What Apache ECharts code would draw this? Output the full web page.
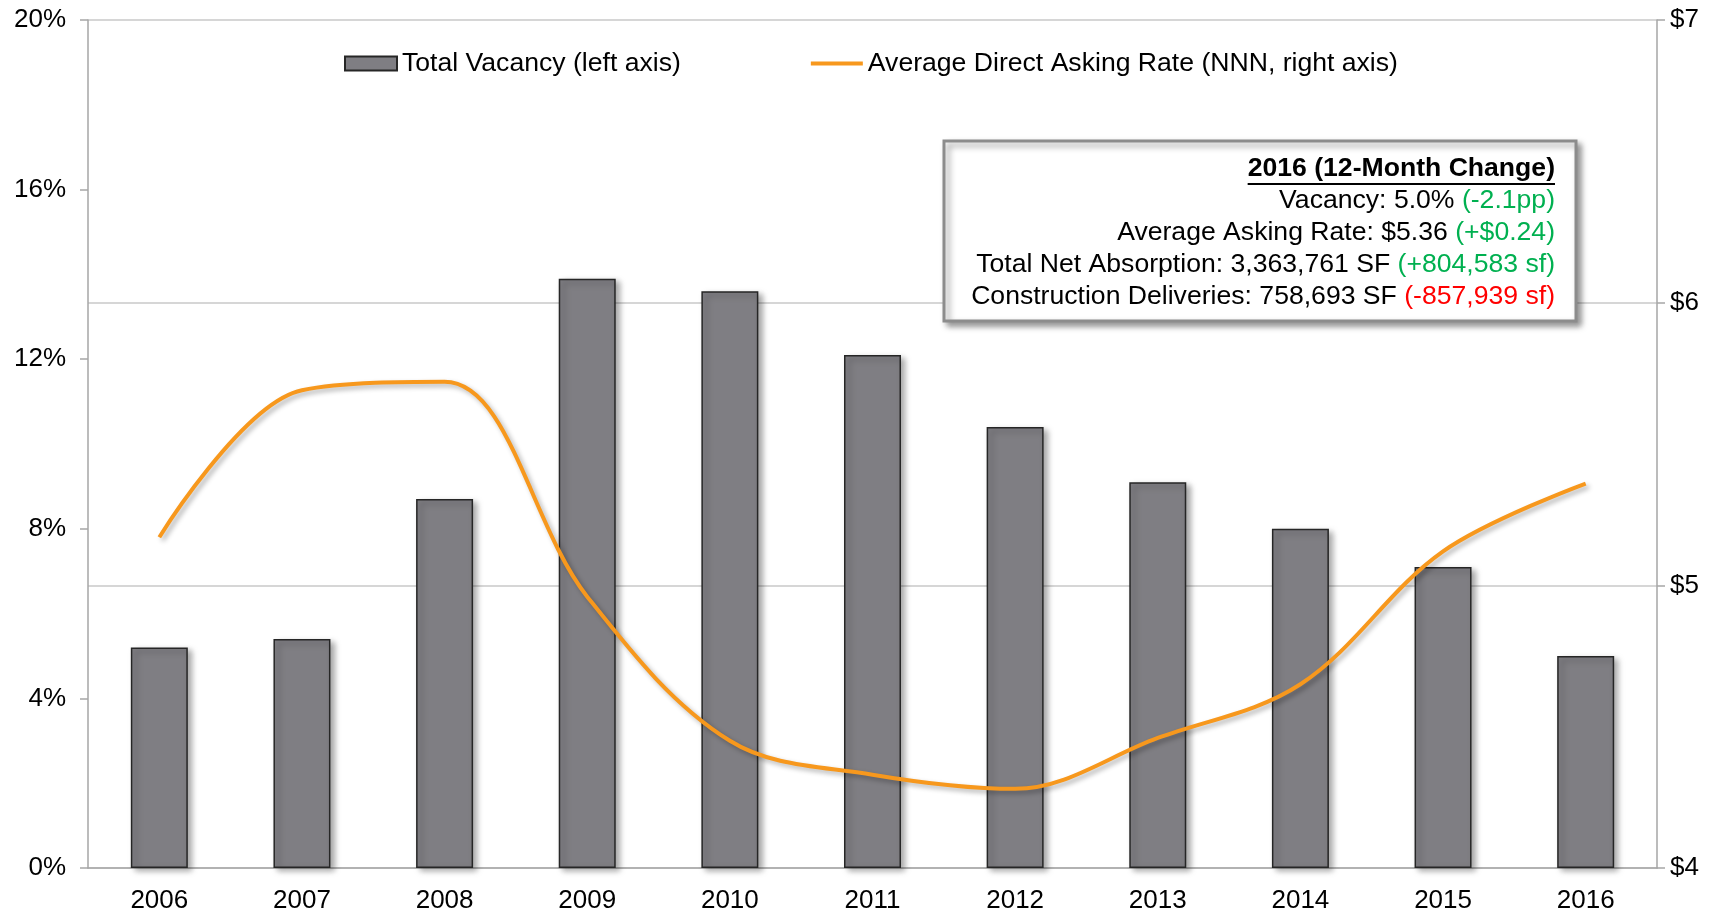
<!DOCTYPE html>
<html>
<head>
<meta charset="utf-8">
<title>Vacancy and Asking Rate</title>
<script src="https://cdn.jsdelivr.net/npm/echarts@6/dist/echarts.min.js"></script>
<style>
  html, body { margin: 0; padding: 0; background: #fff; }
  #chart { width: 1723px; height: 914px; }
</style>
</head>
<body>
<div id="chart"></div>
<script>
// data
const years = ['2006', '2007', '2008', '2009', '2010', '2011', '2012', '2013', '2014', '2015', '2016'];
const vacancy = [5.2, 5.4, 8.7, 13.9, 13.6, 12.1, 10.4, 9.1, 8.0, 7.1, 5.0];
const askingRate = [5.17, 5.69, 5.72, 4.96, 4.45, 4.33, 4.28, 4.46, 4.65, 5.12, 5.36];
const vacancyTicks = [0, 4, 8, 12, 16, 20];
const rateTicks = [4, 5, 6, 7];
const seriesNames = ['Total Vacancy (left axis)', 'Average Direct Asking Rate (NNN, right axis)'];
const boxTitle = '2016 (12-Month Change)';
const boxLines = [
    ['Vacancy: 5.0% ', '(-2.1pp)', 'g'],
    ['Average Asking Rate: $5.36 ', '(+$0.24)', 'g'],
    ['Total Net Absorption: 3,363,761 SF ', '(+804,583 sf)', 'g'],
    ['Construction Deliveries: 758,693 SF ', '(-857,939 sf)', 'r']
];

const FONT = '"Liberation Sans", Arial, sans-serif';
const FS = 26;
const FS_BOX = 26.6;

// 标题下划线宽度
const ctx = document.createElement('canvas').getContext('2d');
ctx.font = 'bold ' + FS_BOX + 'px ' + FONT;
const titleWidth = ctx.measureText(boxTitle).width;

const boxRight = 1555;
const graphics = [
    {
        type: 'rect',
        shape: { x: 944, y: 141, width: 632, height: 180 },
        style: {
            fill: '#fff', stroke: '#8C8C8C', lineWidth: 3,
            shadowBlur: 6, shadowOffsetX: 4, shadowOffsetY: 4, shadowColor: 'rgba(0,0,0,0.4)'
        },
        z: 10
    },
    {
        type: 'text', x: boxRight, y: 169, z: 11,
        style: {
            text: boxTitle, align: 'right', verticalAlign: 'middle',
            fontSize: FS_BOX, fontWeight: 'bold', fontFamily: FONT, fill: '#000'
        }
    },
    {
        type: 'line', z: 11,
        shape: { x1: boxRight - titleWidth, y1: 184, x2: boxRight, y2: 184 },
        style: { stroke: '#000', lineWidth: 2 }
    }
];
boxLines.forEach(function (l, i) {
    graphics.push({
        type: 'text', x: boxRight, y: 201 + i * 32, z: 11,
        style: {
            text: '{k|' + l[0] + '}{' + l[2] + '|' + l[1] + '}',
            align: 'right', verticalAlign: 'middle',
            fontSize: FS_BOX, fontFamily: FONT,
            rich: {
                k: { fill: '#000', fontSize: FS_BOX, fontFamily: FONT },
                g: { fill: '#00B050', fontSize: FS_BOX, fontFamily: FONT },
                r: { fill: '#FF0000', fontSize: FS_BOX, fontFamily: FONT }
            }
        }
    });
});

const chart = echarts.init(document.getElementById('chart'));
chart.setOption({
    animation: false,
    textStyle: { fontFamily: FONT },
    grid: { left: 88, right: 66, top: 20, bottom: 45, containLabel: false },
    legend: {
        left: 339,
        top: 45,
        itemWidth: 52,
        itemHeight: 14,
        itemGap: 128,
        textStyle: { fontSize: FS_BOX, color: '#000', fontFamily: FONT },
        data: [
            { name: seriesNames[0], icon: 'rect' },
            {
                name: seriesNames[1],
                itemStyle: { color: 'rgba(0,0,0,0)', borderWidth: 0 },
                lineStyle: { width: 4, shadowBlur: 0, shadowOffsetX: 0, shadowOffsetY: 0 }
            }
        ]
    },
    xAxis: {
        type: 'category',
        data: years,
        axisLine: { lineStyle: { color: '#A6A6A6', width: 1.5 } },
        axisTick: { show: false },
        axisLabel: { fontSize: FS, color: '#000', margin: 20 }
    },
    yAxis: [
        {
            type: 'value',
            position: 'left',
            min: vacancyTicks[0],
            max: vacancyTicks[vacancyTicks.length - 1],
            interval: vacancyTicks[1] - vacancyTicks[0],
            axisLine: { show: true, lineStyle: { color: '#A6A6A6', width: 1.5 } },
            axisTick: { show: true, length: 8, lineStyle: { color: '#A6A6A6', width: 1.5 } },
            splitLine: { show: false },
            axisLabel: { fontSize: FS, color: '#000', margin: 22, formatter: '{value}%' }
        },
        {
            type: 'value',
            position: 'right',
            min: rateTicks[0],
            max: rateTicks[rateTicks.length - 1],
            interval: rateTicks[1] - rateTicks[0],
            axisLine: { show: true, lineStyle: { color: '#A6A6A6', width: 1.5 } },
            axisTick: { show: true, length: 8, lineStyle: { color: '#A6A6A6', width: 1.5 } },
            splitLine: { show: true, lineStyle: { color: '#C8C8C8', width: 1.5 } },
            axisLabel: { fontSize: FS, color: '#000', margin: 13, formatter: '${value}' }
        }
    ],
    series: [
        {
            name: seriesNames[0],
            type: 'bar',
            yAxisIndex: 0,
            barWidth: 57,
            data: vacancy,
            itemStyle: {
                color: '#7F7E83',
                borderColor: '#262626',
                borderWidth: 1.5,
                shadowBlur: 6,
                shadowOffsetX: 4,
                shadowOffsetY: 3,
                shadowColor: 'rgba(0,0,0,0.35)'
            }
        },
        {
            name: seriesNames[1],
            type: 'line',
            yAxisIndex: 1,
            data: askingRate,
            smooth: 0.35,
            symbol: 'none',
            showSymbol: false,
            z: 5,
            itemStyle: { color: '#F7981D' },
            lineStyle: {
                color: '#F7981D',
                width: 4,
                shadowBlur: 5,
                shadowOffsetX: 3,
                shadowOffsetY: 3,
                shadowColor: 'rgba(0,0,0,0.3)'
            }
        }
    ],
    graphic: graphics
});
</script>
</body>
</html>
